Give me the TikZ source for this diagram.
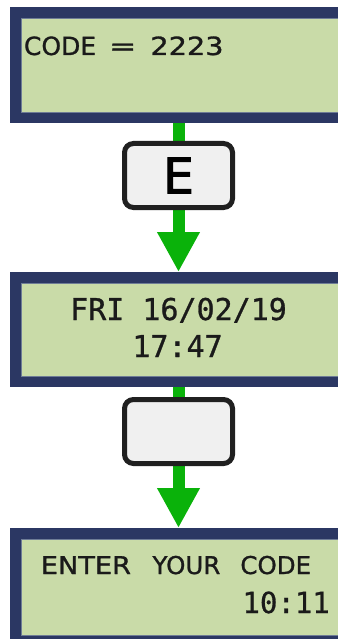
\documentclass[tikz,border=0pt]{standalone}
\usepackage{fontspec}
\usepackage{graphicx}
\setmainfont{DejaVu Sans}[FakeBold=0.8]
\newfontfamily\lcdsansfont{DejaVu Sans}[FakeBold=1.1]
\newfontfamily\lcdmono{DejaVu Sans Mono}[FakeBold=0.9]
\newfontfamily\keyfont{DejaVu Sans}[FakeBold=2]
\usetikzlibrary{arrows.meta,backgrounds}
\definecolor{lcdnavy}{RGB}{43,55,99}
\definecolor{lcdedge}{RGB}{110,124,150}
\definecolor{lcdgreen}{RGB}{201,219,168}
\definecolor{arrowgreen}{RGB}{10,178,10}
\definecolor{keyfill}{RGB}{240,240,240}
\definecolor{keyline}{RGB}{32,32,32}
\definecolor{lcdtext}{RGB}{26,26,26}
\begin{document}
\begin{tikzpicture}[x=1pt,y=-1pt,
  display/.style={draw=lcdnavy,fill=lcdgreen,line width=11pt,minimum width=334.5pt,inner sep=0pt,outer sep=0pt},
  innerline/.style={draw=lcdedge,line width=0.8pt},
  keybox/.style={draw=keyline,fill=keyfill,line width=5pt,rounded corners=9pt,minimum width=108pt,minimum height=64pt,inner sep=0pt,outer sep=0pt,font=\keyfont\fontsize{49}{50}\selectfont,text=black},
  flow/.style={draw=arrowgreen,line width=12pt,-{Triangle[width=40pt,length=40pt]},shorten >=5.5pt},
  lcdsans/.style={inner sep=0pt,text=lcdtext,font=\lcdsansfont\fontsize{25}{30}\selectfont},
  lcdsanssmall/.style={inner sep=0pt,text=lcdtext,font=\lcdsansfont\fontsize{24.5}{29}\selectfont},
  lcdmonotext/.style={inner sep=0pt,text=lcdtext,font=\lcdmono\fontsize{30}{36}\selectfont},
  lcdmonosmall/.style={inner sep=0pt,text=lcdtext,font=\lcdmono\fontsize{29}{35}\selectfont}
]
\useasboundingbox (0,0) rectangle (337,639);

% displays
\node[display,minimum height=105pt] (d1) at (182.75,65) {};
\node[display,minimum height=104pt] (d2) at (182.75,329.5) {};
\node[display,minimum height=107pt] (d3) at (182.75,587) {};
\foreach \d in {d1,d2,d3}{
  \draw[innerline] ([xshift=5.5pt,yshift=-5.5pt]\d.north west) rectangle ([xshift=-5.5pt,yshift=5.5pt]\d.south east);
}

% keys
\node[keybox] (k1) at (178.5,175.5) {E};
\node[keybox] (k2) at (178.5,431.5) {};

% arrows behind
\begin{scope}[on background layer]
\fill[white] (0,0) rectangle (337,639);
\draw[flow] (k1 |- d1.south) -- (k1 |- d2.north);
\draw[flow] (k2 |- d2.south) -- (k2 |- d3.north);
\end{scope}

% texts
\node[lcdsans,anchor=base west] (t1) at (23.8,55) {CODE\hspace{13pt}\scalebox{1.3}[1]{=}\hspace{14pt}\scalebox{1.15}[1]{2223}};
\node[lcdmonotext,anchor=base] (t2a) at (178.5,320) {FRI 16/02/19};
\node[lcdmonotext,anchor=base] (t2b) at (177.5,357) {17:47};
\node[lcdsanssmall,anchor=base west] (t3a) at (40.6,574) {\scalebox{1.11}[1]{ENTER}\hspace{21.5pt}YOUR\hspace{20pt}CODE};
\node[lcdmonosmall,anchor=base east] (t3b) at (330,613) {10:11};
\end{tikzpicture}
\end{document}
